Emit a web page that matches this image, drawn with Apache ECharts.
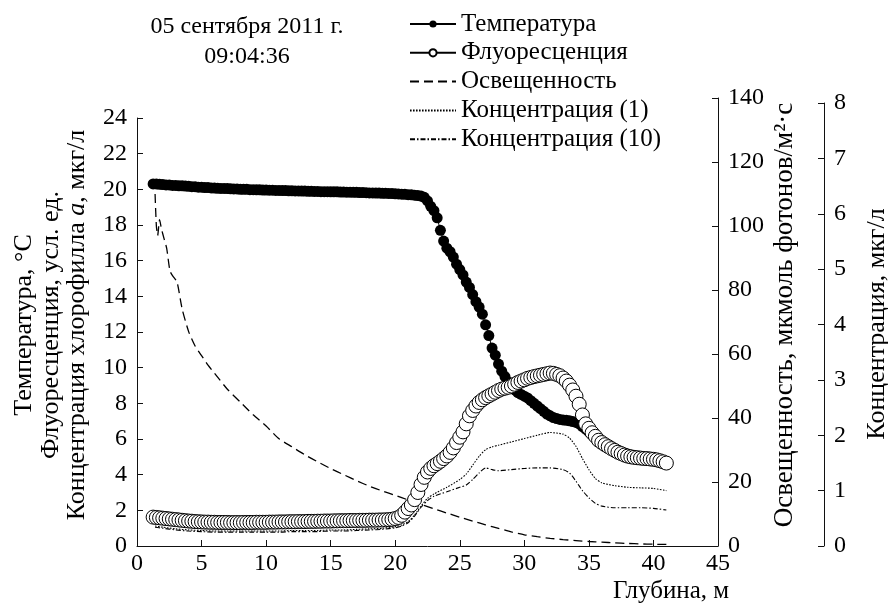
<!DOCTYPE html>
<html>
<head>
<meta charset="utf-8">
<script src="https://cdn.jsdelivr.net/npm/echarts@6/dist/echarts.min.js"></script>
<style>
  html, body { margin: 0; padding: 0; background: #fff; }
  #chart { width: 888px; height: 603px; }
</style>
</head>
<body>
<div id="chart"></div>
<script>
// depth grid for the marker series (m)
const depth = [
  1.25,1.5,1.75,2,2.25,2.5,2.75,3,3.25,3.5,
  3.75,4,4.25,4.5,4.75,5,5.25,5.5,5.75,6,
  6.25,6.5,6.75,7,7.25,7.5,7.75,8,8.25,8.5,
  8.75,9,9.25,9.5,9.75,10,10.25,10.5,10.75,11,
  11.25,11.5,11.75,12,12.25,12.5,12.75,13,13.25,13.5,
  13.75,14,14.25,14.5,14.75,15,15.25,15.5,15.75,16,
  16.25,16.5,16.75,17,17.25,17.5,17.75,18,18.25,18.5,
  18.75,19,19.25,19.5,19.75,20,20.25,20.5,20.75,21,
  21.25,21.5,21.75,22,22.25,22.5,22.75,23,23.25,23.5,
  23.75,24,24.25,24.5,24.75,25,25.25,25.5,25.75,26,
  26.25,26.5,26.75,27,27.25,27.5,27.75,28,28.25,28.5,
  28.75,29,29.25,29.5,29.75,30,30.25,30.5,30.75,31,
  31.25,31.5,31.75,32,32.25,32.5,32.75,33,33.25,33.5,
  33.75,34,34.25,34.5,34.75,35,35.25,35.5,35.75,36,
  36.25,36.5,36.75,37,37.25,37.5,37.75,38,38.25,38.5,
  38.75,39,39.25,39.5,39.75,40,40.25,40.5,40.75,41
]

const temperature = [
  20.3,20.3,20.28,20.27,20.25,20.25,20.22,20.22,20.2,20.2,
  20.18,20.17,20.15,20.15,20.12,20.12,20.1,20.1,20.08,20.07,
  20.06,20.05,20.05,20.04,20.03,20.02,20.02,20.0,20.0,20.0,
  19.98,19.98,19.97,19.97,19.96,19.96,19.95,19.95,19.94,19.94,
  19.93,19.93,19.92,19.92,19.91,19.91,19.9,19.9,19.89,19.89,
  19.88,19.88,19.87,19.87,19.87,19.86,19.86,19.86,19.85,19.85,
  19.84,19.84,19.83,19.83,19.82,19.82,19.81,19.8,19.8,19.79,
  19.79,19.78,19.78,19.77,19.76,19.75,19.74,19.73,19.72,19.7,
  19.69,19.67,19.65,19.62,19.55,19.35,19.05,18.8,18.4,17.7,
  17.1,16.7,16.5,16.2,15.8,15.5,15.2,14.8,14.5,14.1,
  13.7,13.4,13.0,12.4,11.8,11.1,10.7,10.2,9.8,9.5,
  9.2,8.9,8.75,8.6,8.5,8.4,8.3,8.15,8.0,7.85,
  7.7,7.55,7.4,7.3,7.2,7.15,7.1,7.07,7.05,7.02,
  6.98,6.93,6.85,6.7,6.55,6.4,6.25,6.1,5.95,5.8,
  5.7,5.6,5.5,5.42,5.35,5.28,5.22,5.16,5.1,5.06,
  5.03,5.0,4.98,4.96,4.94,4.92,4.9,4.87,4.8,4.7
]

const fluorescence = [
  1.62,1.6,1.58,1.56,1.54,1.52,1.5,1.48,1.46,1.44,
  1.42,1.4,1.39,1.37,1.36,1.35,1.34,1.34,1.33,1.33,
  1.32,1.32,1.32,1.32,1.31,1.31,1.31,1.31,1.32,1.32,
  1.32,1.32,1.33,1.33,1.33,1.33,1.34,1.34,1.34,1.35,
  1.35,1.35,1.36,1.36,1.36,1.37,1.37,1.37,1.38,1.38,
  1.38,1.39,1.39,1.4,1.4,1.4,1.41,1.41,1.42,1.42,
  1.42,1.43,1.43,1.43,1.44,1.44,1.44,1.45,1.45,1.45,
  1.46,1.46,1.47,1.48,1.5,1.54,1.6,1.72,1.9,2.1,
  2.3,2.6,3.0,3.45,3.85,4.15,4.35,4.5,4.62,4.75,
  4.9,5.05,5.25,5.5,5.8,6.1,6.4,6.85,7.3,7.6,
  7.85,8.05,8.2,8.32,8.42,8.52,8.62,8.72,8.8,8.85,
  8.9,8.97,9.07,9.17,9.25,9.32,9.4,9.45,9.5,9.54,
  9.58,9.62,9.66,9.7,9.68,9.62,9.55,9.42,9.25,9.02,
  8.75,8.4,7.95,7.35,6.85,6.6,6.35,6.15,5.93,5.8,
  5.68,5.57,5.46,5.36,5.26,5.18,5.1,5.04,5.0,4.97,
  4.95,4.93,4.91,4.9,4.88,4.86,4.83,4.78,4.72,4.65
]

// illumination, мкмоль фотонов/м2·с
const lightDepth = [1.4,1.5,1.6,1.75,1.9,2.1,2.3,2.55,2.75,3.1,3.5,4,4.5,5,5.5,6,7,8,9,10,
  11,12,13,14,15,16,17,18,19,20,21,22,23,24,25,26,27,28,29,30,31,32,33,34,35,36,37,38,39,40,41]
const light = [110,100,97,102,99,96,93,86,84.5,82.5,74,67,62.5,59.5,56.5,54,49,45,41,37.5,
  33.5,31,28.5,26.3,24.2,22.3,20.4,18.7,17.2,15.8,14.4,13,11.6,10.3,9,7.8,6.6,5.5,4.4,3.5,
  2.9,2.4,2.0,1.7,1.4,1.2,1.0,0.8,0.65,0.55,0.5]

// concentration, мкг/л
const concDepth = [1.4,2,3,4,5,6,7,8,9,10,11,12,13,14,15,16,17,18,19,20,
  20.5,21,21.5,22,22.5,23,24,25,25.5,26,26.5,27,27.5,28,29,30,31,32,33,33.5,
  34,34.5,35,35.5,36,37,38,39,40,41]
const conc1 = [0.36,0.34,0.31,0.29,0.28,0.27,0.27,0.27,0.27,0.27,0.27,0.28,0.28,0.28,0.29,0.29,0.3,0.31,0.32,0.35,
  0.38,0.44,0.56,0.72,0.86,0.94,1.06,1.2,1.3,1.46,1.62,1.74,1.79,1.82,1.88,1.94,2.0,2.05,2.02,1.95,
  1.8,1.58,1.38,1.22,1.14,1.09,1.06,1.05,1.04,1.0]
const conc10 = [0.34,0.32,0.29,0.27,0.26,0.25,0.25,0.25,0.25,0.25,0.25,0.26,0.26,0.26,0.27,0.27,0.28,0.29,0.3,0.33,
  0.36,0.42,0.54,0.7,0.82,0.9,0.98,1.06,1.1,1.2,1.32,1.41,1.38,1.36,1.38,1.4,1.41,1.41,1.38,1.32,
  1.17,1.0,0.87,0.77,0.72,0.69,0.69,0.69,0.68,0.65]

const leftTicks = { min: 0, max: 24, interval: 2 }
const lightTicks = { min: 0, max: 140, interval: 20 }
const concTicks = { min: 0, max: 8, interval: 1 }

const FONT = 'Liberation Serif'
const AXIS_COLOR = '#111'

const chart = echarts.init(document.getElementById('chart'), null, { renderer: 'canvas' })

const xBase = { type: 'value', min: 0, max: 45, interval: 5 }
const axisLine = { show: true, onZero: false, lineStyle: { color: AXIS_COLOR, width: 1 } }
const axisTick = { show: true, inside: true, length: 6, lineStyle: { color: AXIS_COLOR, width: 1 } }
const yBase = {
  type: 'value',
  axisLine,
  axisTick,
  axisLabel: { fontFamily: FONT, fontSize: 24, color: '#000', margin: 10 },
  splitLine: { show: false }
}
// legend rows of the plain lines carry no marker
const noSymbol = { opacity: 0 }

const option = {
  animation: false,
  backgroundColor: '#fff',
  grid: [
    { left: 137, right: 170, top: 118, bottom: 57 },
    { left: 137, right: 170, top: 98, bottom: 57 },
    { left: 137, right: 170, top: 103, bottom: 57 }
  ],
  legend: {
    left: 404,
    top: 6.5,
    orient: 'vertical',
    itemWidth: 46,
    itemHeight: 9,
    itemGap: 3.8,
    textStyle: { fontFamily: FONT, fontSize: 25, color: '#000' },
    data: [
      'Температура',
      'Флуоресценция',
      { name: 'Освещенность', itemStyle: noSymbol },
      { name: 'Концентрация (1)', itemStyle: noSymbol },
      { name: 'Концентрация (10)', itemStyle: noSymbol }
    ]
  },
  xAxis: [
    {
      ...xBase,
      gridIndex: 0,
      axisLine,
      axisTick,
      axisLabel: { fontFamily: FONT, fontSize: 24, color: '#000', margin: 6 },
      splitLine: { show: false }
    },
    { ...xBase, gridIndex: 1, show: false },
    { ...xBase, gridIndex: 2, show: false }
  ],
  yAxis: [
    { ...yBase, ...leftTicks, gridIndex: 0, position: 'left' },
    { ...yBase, ...lightTicks, gridIndex: 1, position: 'right' },
    { ...yBase, ...concTicks, gridIndex: 2, position: 'right', offset: 106 }
  ],
  graphic: [
    {
      type: 'text', x: 247, y: 41.5,
      style: {
        text: '05 сентября 2011 г.\n09:04:36',
        font: '24px "Liberation Serif"', lineHeight: 30,
        fill: '#000', align: 'center', verticalAlign: 'middle'
      }
    },
    {
      type: 'text', x: 51, y: 325, rotation: Math.PI / 2,
      style: {
        text: '{n|Температура, °С}\n{n|Флуоресценция, усл. ед.}\n{n|Концентрация хлорофилла }{i|a}{n|, мкг/л}',
        align: 'center', verticalAlign: 'middle', fill: '#000',
        rich: {
          n: { fontFamily: FONT, fontSize: 26, lineHeight: 26.5, fill: '#000' },
          i: { fontFamily: FONT, fontSize: 26, lineHeight: 26.5, fontStyle: 'italic', fill: '#000' }
        }
      }
    },
    {
      type: 'text', x: 785, y: 315, rotation: Math.PI / 2,
      style: {
        text: 'Освещенность, мкмоль фотонов/м²·с',
        font: '27px "Liberation Serif"', fill: '#000',
        align: 'center', verticalAlign: 'middle'
      }
    },
    {
      type: 'text', x: 877, y: 324, rotation: Math.PI / 2,
      style: {
        text: 'Концентрация, мкг/л',
        font: '26px "Liberation Serif"', fill: '#000',
        align: 'center', verticalAlign: 'middle'
      }
    },
    {
      type: 'text', x: 671, y: 591,
      style: {
        text: 'Глубина, м',
        font: '25px "Liberation Serif"', fill: '#000',
        align: 'center', verticalAlign: 'middle'
      }
    }
  ],
  series: [
    {
      name: 'Освещенность',
      type: 'line',
      xAxisIndex: 1,
      yAxisIndex: 1,
      symbol: 'none',
      smooth: 0.2,
      data: lightDepth.map((d, i) => [d, light[i]]),
      lineStyle: { color: '#000', width: 1.3, type: [9, 5] },
      itemStyle: { color: '#000' },
      z: 2
    },
    {
      name: 'Концентрация (1)',
      type: 'line',
      xAxisIndex: 2,
      yAxisIndex: 2,
      symbol: 'none',
      smooth: 0.2,
      data: concDepth.map((d, i) => [d, conc1[i]]),
      lineStyle: { color: '#000', width: 1.1, type: [1.6, 1.4] },
      itemStyle: { color: '#000' },
      z: 2
    },
    {
      name: 'Концентрация (10)',
      type: 'line',
      xAxisIndex: 2,
      yAxisIndex: 2,
      symbol: 'none',
      smooth: 0.2,
      data: concDepth.map((d, i) => [d, conc10[i]]),
      lineStyle: { color: '#000', width: 1.1, type: [5, 2, 1.5, 2] },
      itemStyle: { color: '#000' },
      z: 2
    },
    {
      name: 'Температура',
      type: 'line',
      xAxisIndex: 0,
      yAxisIndex: 0,
      symbol: 'circle',
      symbolSize: 11,
      showSymbol: true,
      data: depth.map((d, i) => [d, temperature[i]]),
      lineStyle: { color: '#000', width: 1 },
      itemStyle: { color: '#000' },
      z: 3
    },
    {
      name: 'Флуоресценция',
      type: 'line',
      xAxisIndex: 0,
      yAxisIndex: 0,
      symbol: 'circle',
      symbolSize: 14,
      showSymbol: true,
      data: depth.map((d, i) => [d, fluorescence[i]]),
      lineStyle: { color: '#000', width: 1 },
      itemStyle: { color: '#fff', borderColor: '#000', borderWidth: 1 },
      z: 4
    }
  ]
}

chart.setOption(option)
</script>
</body>
</html>
